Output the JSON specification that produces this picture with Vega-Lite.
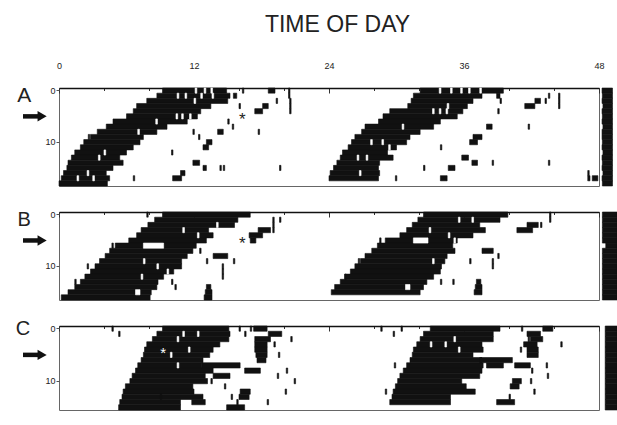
{
"$schema": "https://vega.github.io/schema/vega-lite/v6.json",
"background": "white",
"padding": {"left": 15, "top": 14, "right": 0, "bottom": 0},
"title": {"text": "TIME OF DAY", "font": "Liberation Sans", "fontSize": 23, "fontWeight": "normal", "color": "#222", "anchor": "middle", "offset": 21, "dx": 21},
"config": {
  "view": {"stroke": "#666", "strokeWidth": 1},
  "font": "Liberation Sans",
  "axis": {"labelFont": "Liberation Sans", "labelFontSize": 9, "labelColor": "#222", "title": null, "grid": false}
},
"bounds": "flush",
"spacing": 26,
"datasets": {
"A": [
{"d":0,"s":9.2,"e":14.9,"k":"b"},{"d":1,"s":8.7,"e":15.2,"k":"b"},{"d":2,"s":7.8,"e":15.0,"k":"b"},{"d":3,"s":6.9,"e":13.5,"k":"b"},{"d":4,"s":6.6,"e":12.6,"k":"b"},{"d":5,"s":6.0,"e":12.3,"k":"b"},{"d":6,"s":4.8,"e":11.4,"k":"b"},{"d":7,"s":4.2,"e":9.6,"k":"b"},{"d":8,"s":3.4,"e":8.7,"k":"b"},{"d":9,"s":2.8,"e":7.5,"k":"b"},{"d":10,"s":2.2,"e":7.2,"k":"b"},{"d":11,"s":1.9,"e":6.6,"k":"b"},{"d":12,"s":1.4,"e":6.0,"k":"b"},{"d":13,"s":1.1,"e":5.4,"k":"b"},{"d":14,"s":0.8,"e":5.7,"k":"b"},{"d":15,"s":0.7,"e":4.8,"k":"b"},{"d":16,"s":0.4,"e":4.2,"k":"b"},{"d":17,"s":0.2,"e":4.5,"k":"b"},{"d":18,"s":0.0,"e":4.3,"k":"b"},
{"d":0,"s":32.1,"e":39.5,"k":"b"},{"d":1,"s":31.5,"e":37.6,"k":"b"},{"d":2,"s":31.3,"e":36.8,"k":"b"},{"d":3,"s":31.0,"e":36.3,"k":"b"},{"d":4,"s":29.4,"e":35.9,"k":"b"},{"d":5,"s":28.8,"e":35.4,"k":"b"},{"d":6,"s":28.4,"e":33.9,"k":"b"},{"d":7,"s":27.2,"e":33.3,"k":"b"},{"d":8,"s":26.9,"e":32.1,"k":"b"},{"d":9,"s":26.3,"e":31.2,"k":"b"},{"d":10,"s":26.0,"e":30.9,"k":"b"},{"d":11,"s":25.7,"e":30.0,"k":"b"},{"d":12,"s":25.2,"e":29.2,"k":"b"},{"d":13,"s":25.0,"e":29.7,"k":"b"},{"d":14,"s":24.7,"e":28.5,"k":"b"},{"d":15,"s":24.4,"e":28.4,"k":"b"},{"d":16,"s":24.1,"e":28.5,"k":"b"},{"d":17,"s":24.0,"e":28.4,"k":"b"},
{"d":0,"s":18.6,"e":19.2,"k":"b"},{"d":1,"s":15.5,"e":15.8,"k":"b"},{"d":3,"s":18.1,"e":18.6,"k":"b"},{"d":4,"s":17.4,"e":18.1,"k":"b"},{"d":8,"s":14.1,"e":14.6,"k":"b"},{"d":10,"s":13.1,"e":13.6,"k":"b"},{"d":11,"s":12.8,"e":13.3,"k":"b"},{"d":14,"s":11.9,"e":12.5,"k":"b"},{"d":15,"s":12.8,"e":13.1,"k":"b"},{"d":16,"s":10.8,"e":11.2,"k":"b"},{"d":17,"s":10.1,"e":10.9,"k":"b"},
{"d":1,"s":38.9,"e":39.2,"k":"b"},{"d":2,"s":42.3,"e":42.8,"k":"b"},{"d":3,"s":41.4,"e":42.3,"k":"b"},{"d":7,"s":38.0,"e":38.5,"k":"b"},{"d":9,"s":36.8,"e":37.6,"k":"b"},{"d":10,"s":36.5,"e":37.2,"k":"b"},{"d":13,"s":35.8,"e":36.4,"k":"b"},{"d":14,"s":36.7,"e":37.2,"k":"b"},{"d":15,"s":34.6,"e":35.2,"k":"b"},{"d":17,"s":33.9,"e":34.5,"k":"b"},{"d":17,"s":47.0,"e":47.2,"k":"b"},{"d":17,"s":47.4,"e":47.9,"k":"b"},
{"d":0,"s":16.3,"e":16.43,"k":"b"},{"d":0,"s":20.4,"e":20.53,"k":"b"},{"d":1,"s":20.4,"e":20.53,"k":"b"},{"d":2,"s":20.5,"e":20.63,"k":"b"},{"d":3,"s":20.5,"e":20.63,"k":"b"},{"d":4,"s":20.5,"e":20.63,"k":"b"},{"d":2,"s":19.3,"e":19.43,"k":"b"},{"d":6,"s":15.0,"e":15.13,"k":"b"},{"d":7,"s":15.4,"e":15.53,"k":"b"},{"d":8,"s":11.9,"e":12.03,"k":"b"},{"d":8,"s":17.7,"e":17.83,"k":"b"},{"d":9,"s":12.4,"e":12.53,"k":"b"},{"d":12,"s":10.0,"e":10.13,"k":"b"},{"d":15,"s":14.3,"e":14.43,"k":"b"},{"d":15,"s":14.6,"e":14.73,"k":"b"},{"d":15,"s":19.6,"e":19.73,"k":"b"},{"d":17,"s":6.6,"e":6.73,"k":"b"},{"d":9,"s":2.6,"e":2.73,"k":"b"},{"d":3,"s":16.0,"e":16.13,"k":"b"},
{"d":1,"s":44.4,"e":44.53,"k":"b"},{"d":2,"s":44.4,"e":44.53,"k":"b"},{"d":3,"s":44.4,"e":44.53,"k":"b"},{"d":1,"s":43.5,"e":43.63,"k":"b"},{"d":2,"s":43.2,"e":43.33,"k":"b"},{"d":2,"s":39.2,"e":39.33,"k":"b"},{"d":4,"s":39.0,"e":39.13,"k":"b"},{"d":7,"s":41.7,"e":41.83,"k":"b"},{"d":14,"s":43.5,"e":43.63,"k":"b"},{"d":11,"s":33.9,"e":34.03,"k":"b"},{"d":14,"s":38.5,"e":38.63,"k":"b"},{"d":15,"s":32.4,"e":32.53,"k":"b"},{"d":17,"s":29.9,"e":30.03,"k":"b"},{"d":16,"s":47.0,"e":47.13,"k":"b"},
{"d":0,"s":48.27,"e":49.2,"k":"b"},{"d":1,"s":48.3,"e":49.2,"k":"b"},{"d":2,"s":48.27,"e":49.2,"k":"b"},{"d":3,"s":48.35,"e":49.2,"k":"b"},{"d":4,"s":48.27,"e":49.2,"k":"b"},{"d":5,"s":48.3,"e":49.2,"k":"b"},{"d":6,"s":48.27,"e":49.2,"k":"b"},{"d":7,"s":48.35,"e":49.2,"k":"b"},{"d":8,"s":48.27,"e":49.2,"k":"b"},{"d":9,"s":48.27,"e":49.2,"k":"b"},{"d":10,"s":48.3,"e":49.2,"k":"b"},{"d":11,"s":48.27,"e":49.2,"k":"b"},{"d":12,"s":48.35,"e":49.2,"k":"b"},{"d":13,"s":48.27,"e":49.2,"k":"b"},{"d":14,"s":48.3,"e":49.2,"k":"b"},{"d":15,"s":48.27,"e":49.2,"k":"b"},{"d":16,"s":48.35,"e":49.2,"k":"b"},{"d":17,"s":48.27,"e":49.2,"k":"b"},{"d":18,"s":48.3,"e":49.2,"k":"b"},
{"d":0,"s":12.1,"e":12.25,"k":"w"},{"d":0,"s":12.9,"e":13.05,"k":"w"},{"d":0,"s":13.5,"e":13.65,"k":"w"},{"d":1,"s":10.5,"e":10.65,"k":"w"},{"d":1,"s":11.2,"e":11.35,"k":"w"},{"d":1,"s":12.6,"e":12.75,"k":"w"},{"d":1,"s":13.6,"e":13.75,"k":"w"},{"d":2,"s":12.0,"e":12.15,"k":"w"},{"d":5,"s":10.4,"e":10.55,"k":"w"},{"d":5,"s":10.9,"e":11.05,"k":"w"},{"d":5,"s":11.6,"e":11.75,"k":"w"},{"d":6,"s":8.6,"e":8.75,"k":"w"},{"d":8,"s":7.0,"e":7.15,"k":"w"},{"d":12,"s":4.0,"e":4.15,"k":"w"},{"d":13,"s":3.5,"e":3.65,"k":"w"},{"d":16,"s":2.5,"e":2.65,"k":"w"},{"d":17,"s":1.6,"e":1.75,"k":"w"},{"d":17,"s":3.0,"e":3.15,"k":"w"},
{"d":0,"s":33.8,"e":33.95,"k":"w"},{"d":0,"s":34.8,"e":34.95,"k":"w"},{"d":0,"s":35.7,"e":35.85,"k":"w"},{"d":0,"s":36.4,"e":36.55,"k":"w"},{"d":0,"s":37.4,"e":37.55,"k":"w"},{"d":3,"s":34.5,"e":34.65,"k":"w"},{"d":4,"s":33.2,"e":33.35,"k":"w"},{"d":4,"s":33.8,"e":33.95,"k":"w"},{"d":4,"s":34.4,"e":34.55,"k":"w"},{"d":7,"s":30.5,"e":30.65,"k":"w"},{"d":10,"s":27.7,"e":27.85,"k":"w"},{"d":10,"s":28.7,"e":28.85,"k":"w"},{"d":11,"s":29.3,"e":29.45,"k":"w"},{"d":13,"s":26.5,"e":26.65,"k":"w"},{"d":13,"s":27.3,"e":27.45,"k":"w"},{"d":16,"s":26.7,"e":26.85,"k":"w"}
],
"B": [
{"d":0,"s":9.2,"e":17.0,"k":"b"},{"d":1,"s":8.5,"e":15.9,"k":"b"},{"d":2,"s":7.9,"e":15.6,"k":"b"},{"d":3,"s":7.3,"e":13.3,"k":"b"},{"d":4,"s":6.9,"e":13.7,"k":"b"},{"d":5,"s":6.2,"e":13.1,"k":"b"},{"d":6,"s":5.0,"e":12.2,"k":"b"},{"d":7,"s":4.5,"e":11.9,"k":"b"},{"d":8,"s":4.1,"e":11.4,"k":"b"},{"d":9,"s":3.6,"e":10.9,"k":"b"},{"d":10,"s":3.2,"e":10.9,"k":"b"},{"d":11,"s":2.8,"e":10.2,"k":"b"},{"d":12,"s":2.3,"e":9.3,"k":"b"},{"d":13,"s":1.9,"e":8.8,"k":"b"},{"d":14,"s":1.4,"e":8.7,"k":"b"},{"d":15,"s":0.8,"e":8.2,"k":"b"},{"d":16,"s":0.2,"e":8.1,"k":"b"},
{"d":0,"s":32.4,"e":39.9,"k":"b"},{"d":1,"s":31.9,"e":39.2,"k":"b"},{"d":2,"s":31.4,"e":37.4,"k":"b"},{"d":3,"s":30.9,"e":37.9,"k":"b"},{"d":4,"s":30.3,"e":36.8,"k":"b"},{"d":5,"s":29.0,"e":35.4,"k":"b"},{"d":6,"s":28.3,"e":35.0,"k":"b"},{"d":7,"s":27.8,"e":35.2,"k":"b"},{"d":8,"s":27.2,"e":34.5,"k":"b"},{"d":9,"s":26.8,"e":34.3,"k":"b"},{"d":10,"s":26.3,"e":34.0,"k":"b"},{"d":11,"s":25.9,"e":33.9,"k":"b"},{"d":12,"s":25.4,"e":33.3,"k":"b"},{"d":13,"s":25.0,"e":32.7,"k":"b"},{"d":14,"s":24.5,"e":32.4,"k":"b"},{"d":15,"s":24.2,"e":32.1,"k":"b"},
{"d":3,"s":17.7,"e":18.8,"k":"b"},{"d":4,"s":16.9,"e":18.1,"k":"b"},{"d":5,"s":17.0,"e":17.5,"k":"b"},{"d":8,"s":13.7,"e":15.0,"k":"b"},{"d":14,"s":13.1,"e":13.5,"k":"b"},{"d":15,"s":13.0,"e":13.6,"k":"b"},{"d":16,"s":12.9,"e":13.6,"k":"b"},
{"d":2,"s":41.6,"e":42.6,"k":"b"},{"d":3,"s":40.7,"e":42.1,"k":"b"},{"d":7,"s":37.6,"e":38.6,"k":"b"},{"d":13,"s":37.1,"e":37.5,"k":"b"},{"d":14,"s":37.0,"e":37.6,"k":"b"},{"d":15,"s":36.9,"e":37.6,"k":"b"},
{"d":1,"s":19.6,"e":19.73,"k":"b"},{"d":1,"s":19.0,"e":19.13,"k":"b"},{"d":2,"s":19.0,"e":19.13,"k":"b"},{"d":3,"s":19.0,"e":19.13,"k":"b"},{"d":9,"s":15.5,"e":15.63,"k":"b"},{"d":7,"s":12.5,"e":12.63,"k":"b"},{"d":9,"s":13.1,"e":13.23,"k":"b"},{"d":10,"s":14.5,"e":14.63,"k":"b"},{"d":11,"s":14.5,"e":14.63,"k":"b"},{"d":12,"s":14.5,"e":14.63,"k":"b"},{"d":13,"s":10.0,"e":10.13,"k":"b"},{"d":14,"s":10.3,"e":10.43,"k":"b"},{"d":6,"s":4.7,"e":4.83,"k":"b"},{"d":0,"s":7.8,"e":7.93,"k":"b"},{"d":10,"s":2.5,"e":2.63,"k":"b"},{"d":13,"s":1.4,"e":1.53,"k":"b"},
{"d":0,"s":43.6,"e":43.73,"k":"b"},{"d":1,"s":43.6,"e":43.73,"k":"b"},{"d":2,"s":42.8,"e":42.93,"k":"b"},{"d":8,"s":39.0,"e":39.13,"k":"b"},{"d":9,"s":38.5,"e":38.63,"k":"b"},{"d":10,"s":38.5,"e":38.63,"k":"b"},{"d":9,"s":36.5,"e":36.63,"k":"b"},{"d":13,"s":35.0,"e":35.13,"k":"b"},{"d":13,"s":33.9,"e":34.03,"k":"b"},{"d":5,"s":28.5,"e":28.63,"k":"b"},{"d":9,"s":26.6,"e":26.73,"k":"b"},{"d":12,"s":25.4,"e":25.53,"k":"b"},
{"d":0,"s":48.3,"e":49.6,"k":"b"},{"d":1,"s":48.3,"e":49.6,"k":"b"},{"d":2,"s":48.3,"e":49.6,"k":"b"},{"d":3,"s":48.3,"e":49.6,"k":"b"},{"d":4,"s":48.3,"e":49.6,"k":"b"},{"d":5,"s":48.3,"e":49.6,"k":"b"},{"d":6,"s":48.6,"e":49.6,"k":"b"},{"d":7,"s":48.3,"e":49.6,"k":"b"},{"d":8,"s":48.3,"e":49.6,"k":"b"},{"d":9,"s":48.3,"e":49.6,"k":"b"},{"d":10,"s":48.3,"e":49.6,"k":"b"},{"d":11,"s":48.3,"e":49.6,"k":"b"},{"d":12,"s":48.3,"e":49.6,"k":"b"},{"d":13,"s":48.3,"e":49.6,"k":"b"},{"d":14,"s":48.3,"e":49.6,"k":"b"},{"d":15,"s":48.3,"e":49.6,"k":"b"},{"d":16,"s":48.3,"e":49.6,"k":"b"},
{"d":6,"s":7.5,"e":9.3,"k":"w"},{"d":15,"s":6.8,"e":7.2,"k":"w"},{"d":5,"s":31.5,"e":32.8,"k":"w"},{"d":14,"s":30.8,"e":31.2,"k":"w"},
{"d":2,"s":14.0,"e":14.15,"k":"w"},{"d":3,"s":11.0,"e":11.15,"k":"w"},{"d":4,"s":12.3,"e":12.45,"k":"w"},{"d":9,"s":7.5,"e":7.65,"k":"w"},{"d":10,"s":8.7,"e":8.85,"k":"w"},{"d":11,"s":9.6,"e":9.75,"k":"w"},{"d":12,"s":7.3,"e":7.45,"k":"w"},{"d":3,"s":32.9,"e":33.05,"k":"w"},{"d":4,"s":34.6,"e":34.75,"k":"w"},{"d":5,"s":35.1,"e":35.25,"k":"w"},{"d":9,"s":33.2,"e":33.35,"k":"w"},{"d":1,"s":35.5,"e":35.65,"k":"w"},{"d":1,"s":36.7,"e":36.85,"k":"w"}
],
"C": [
{"d":0,"s":9.2,"e":15.1,"k":"b"},{"d":1,"s":8.7,"e":15.2,"k":"b"},{"d":2,"s":8.3,"e":15.1,"k":"b"},{"d":3,"s":7.8,"e":14.3,"k":"b"},{"d":4,"s":7.6,"e":13.7,"k":"b"},{"d":5,"s":7.5,"e":13.4,"k":"b"},{"d":6,"s":7.3,"e":12.8,"k":"b"},{"d":7,"s":7.0,"e":12.7,"k":"b"},{"d":8,"s":6.8,"e":13.7,"k":"b"},{"d":9,"s":6.5,"e":13.0,"k":"b"},{"d":10,"s":6.3,"e":13.2,"k":"b"},{"d":11,"s":5.9,"e":11.9,"k":"b"},{"d":12,"s":5.7,"e":12.0,"k":"b"},{"d":13,"s":5.6,"e":12.8,"k":"b"},{"d":14,"s":5.4,"e":10.8,"k":"b"},{"d":15,"s":5.3,"e":10.8,"k":"b"},
{"d":0,"s":33.0,"e":39.2,"k":"b"},{"d":1,"s":32.4,"e":38.6,"k":"b"},{"d":2,"s":32.1,"e":38.6,"k":"b"},{"d":3,"s":31.8,"e":37.6,"k":"b"},{"d":4,"s":31.5,"e":37.7,"k":"b"},{"d":5,"s":31.4,"e":36.8,"k":"b"},{"d":6,"s":31.2,"e":37.6,"k":"b"},{"d":7,"s":30.9,"e":37.7,"k":"b"},{"d":8,"s":30.6,"e":37.6,"k":"b"},{"d":9,"s":30.3,"e":37.4,"k":"b"},{"d":10,"s":30.1,"e":35.8,"k":"b"},{"d":11,"s":29.9,"e":36.2,"k":"b"},{"d":12,"s":29.7,"e":37.0,"k":"b"},{"d":13,"s":29.6,"e":34.8,"k":"b"},{"d":14,"s":29.4,"e":34.8,"k":"b"},
{"d":0,"s":17.3,"e":18.5,"k":"b"},{"d":1,"s":18.6,"e":19.8,"k":"b"},{"d":2,"s":17.4,"e":18.8,"k":"b"},{"d":3,"s":17.4,"e":18.5,"k":"b"},{"d":4,"s":17.4,"e":18.5,"k":"b"},{"d":5,"s":17.5,"e":18.5,"k":"b"},{"d":6,"s":17.6,"e":18.4,"k":"b"},{"d":7,"s":12.7,"e":16.1,"k":"b"},{"d":8,"s":16.5,"e":17.9,"k":"b"},{"d":9,"s":13.7,"e":15.2,"k":"b"},{"d":12,"s":16.1,"e":17.0,"k":"b"},{"d":13,"s":16.0,"e":16.9,"k":"b"},{"d":14,"s":11.8,"e":13.0,"k":"b"},{"d":15,"s":14.9,"e":16.5,"k":"b"},
{"d":0,"s":43.0,"e":43.9,"k":"b"},{"d":1,"s":41.6,"e":42.8,"k":"b"},{"d":2,"s":41.9,"e":43.0,"k":"b"},{"d":3,"s":41.3,"e":42.5,"k":"b"},{"d":4,"s":41.6,"e":42.6,"k":"b"},{"d":5,"s":41.6,"e":42.6,"k":"b"},{"d":6,"s":37.4,"e":40.3,"k":"b"},{"d":7,"s":38.0,"e":39.5,"k":"b"},{"d":7,"s":40.5,"e":41.9,"k":"b"},{"d":10,"s":40.3,"e":41.1,"k":"b"},{"d":11,"s":40.1,"e":40.9,"k":"b"},{"d":14,"s":38.9,"e":40.5,"k":"b"},
{"d":0,"s":4.7,"e":4.83,"k":"b"},{"d":1,"s":5.3,"e":5.43,"k":"b"},{"d":0,"s":16.0,"e":16.13,"k":"b"},{"d":0,"s":17.0,"e":17.13,"k":"b"},{"d":1,"s":16.5,"e":16.63,"k":"b"},{"d":2,"s":20.6,"e":20.73,"k":"b"},{"d":3,"s":19.1,"e":19.23,"k":"b"},{"d":5,"s":19.5,"e":19.63,"k":"b"},{"d":8,"s":20.2,"e":20.33,"k":"b"},{"d":9,"s":19.4,"e":19.53,"k":"b"},{"d":10,"s":20.9,"e":21.03,"k":"b"},{"d":12,"s":20.1,"e":20.23,"k":"b"},{"d":13,"s":15.3,"e":15.43,"k":"b"},{"d":14,"s":18.5,"e":18.63,"k":"b"},{"d":14,"s":15.8,"e":15.93,"k":"b"},{"d":10,"s":13.5,"e":13.63,"k":"b"},{"d":11,"s":14.7,"e":14.83,"k":"b"},{"d":13,"s":9.0,"e":9.13,"k":"b"},
{"d":0,"s":28.6,"e":28.73,"k":"b"},{"d":0,"s":30.4,"e":30.53,"k":"b"},{"d":1,"s":29.7,"e":29.83,"k":"b"},{"d":0,"s":41.1,"e":41.23,"k":"b"},{"d":2,"s":41.7,"e":41.83,"k":"b"},{"d":3,"s":44.6,"e":44.73,"k":"b"},{"d":4,"s":41.0,"e":41.13,"k":"b"},{"d":7,"s":43.3,"e":43.43,"k":"b"},{"d":8,"s":42.0,"e":42.13,"k":"b"},{"d":9,"s":43.4,"e":43.53,"k":"b"},{"d":10,"s":41.9,"e":42.03,"k":"b"},{"d":12,"s":42.2,"e":42.33,"k":"b"},{"d":13,"s":40.0,"e":40.13,"k":"b"},{"d":7,"s":29.8,"e":29.93,"k":"b"},{"d":12,"s":29.0,"e":29.13,"k":"b"},
{"d":0,"s":48.55,"e":49.6,"k":"b"},{"d":1,"s":48.55,"e":49.6,"k":"b"},{"d":2,"s":48.55,"e":49.6,"k":"b"},{"d":3,"s":48.55,"e":49.6,"k":"b"},{"d":4,"s":48.55,"e":49.6,"k":"b"},{"d":5,"s":48.55,"e":49.6,"k":"b"},{"d":6,"s":48.55,"e":49.6,"k":"b"},{"d":7,"s":48.55,"e":49.6,"k":"b"},{"d":8,"s":48.55,"e":49.6,"k":"b"},{"d":9,"s":48.55,"e":49.6,"k":"b"},{"d":10,"s":48.55,"e":49.6,"k":"b"},{"d":11,"s":48.55,"e":49.6,"k":"b"},{"d":12,"s":48.55,"e":49.6,"k":"b"},{"d":13,"s":48.55,"e":49.6,"k":"b"},{"d":14,"s":48.55,"e":49.6,"k":"b"},{"d":15,"s":48.55,"e":49.6,"k":"b"},
{"d":1,"s":11.0,"e":11.15,"k":"w"},{"d":1,"s":12.3,"e":12.45,"k":"w"},{"d":2,"s":10.5,"e":10.65,"k":"w"},{"d":4,"s":11.5,"e":11.65,"k":"w"},{"d":5,"s":9.9,"e":10.05,"k":"w"},{"d":7,"s":10.5,"e":10.65,"k":"w"},{"d":3,"s":33.0,"e":33.15,"k":"w"},{"d":3,"s":34.3,"e":34.45,"k":"w"},{"d":4,"s":35.5,"e":35.65,"k":"w"},{"d":2,"s":35.1,"e":35.25,"k":"w"}
]
},
"vconcat": [
{
 "width": 540, "height": 98,
 "layer": [
  {"data": {"name": "A"}, "mark": {"type": "bar", "strokeWidth": 0.6},
   "encoding": {
    "x": {"field": "s", "type": "quantitative", "scale": {"domain": [0, 48], "nice": false, "zero": false},
      "axis": {"orient": "top", "values": [0,1,2,3,4,5,6,7,8,9,10,11,12,13,14,15,16,17,18,19,20,21,22,23,24,25,26,27,28,29,30,31,32,33,34,35,36,37,38,39,40,41,42,43,44,45,46,47,48],
        "labelExpr": "datum.value % 12 === 0 ? datum.label : ''", "labelOverlap": false, "labelFlush": false, "labelPadding": 23,
        "tickSize": {"condition": {"test": "datum.value % 12 === 0", "value": -5}, "value": -2.5},
        "tickColor": "#333", "domainColor": "#111", "domainWidth": 1.5}},
    "x2": {"field": "e"},
    "y": {"field": "d", "type": "ordinal", "scale": {"domain": [0,1,2,3,4,5,6,7,8,9,10,11,12,13,14,15,16,17,18], "paddingInner": 0, "paddingOuter": 0},
      "axis": {"values": [0, 10], "tickSize": 3, "labelPadding": 1, "domain": false, "tickColor": "#555"}},
    "color": {"field": "k", "type": "nominal", "scale": {"domain": ["b", "w"], "range": ["#111", "#ffffff"]}, "legend": null},
    "stroke": {"field": "k", "type": "nominal", "scale": {"domain": ["b", "w"], "range": ["#111", "#ffffff"]}, "legend": null}
   }},
  {"data": {"values": [{}]}, "mark": {"type": "text", "text": "A", "fontSize": 21, "font": "Liberation Sans", "color": "#222", "baseline": "middle"},
   "encoding": {"x": {"datum": -3.1}, "y": {"datum": 1, "type": "ordinal"}}},
  {"data": {"values": [{}]}, "mark": {"type": "rule", "strokeWidth": 4.5, "color": "#111"},
   "encoding": {"x": {"datum": -3.2}, "x2": {"datum": -1.7}, "y": {"datum": 5, "type": "ordinal"}}},
  {"data": {"values": [{}]}, "mark": {"type": "point", "shape": "triangle-right", "filled": true, "size": 110, "color": "#111", "opacity": 1},
   "encoding": {"x": {"datum": -1.5}, "y": {"datum": 5, "type": "ordinal"}}},
  {"data": {"values": [{}]}, "mark": {"type": "text", "text": "*", "fontSize": 17, "font": "Liberation Sans", "color": "#222", "baseline": "middle", "dy": 4},
   "encoding": {"x": {"datum": 16.3}, "y": {"datum": 5, "type": "ordinal"}}}
 ]
},
{
 "width": 540, "height": 88,
 "layer": [
  {"data": {"name": "B"}, "mark": {"type": "bar", "strokeWidth": 0.6},
   "encoding": {
    "x": {"field": "s", "type": "quantitative", "scale": {"domain": [0, 48], "nice": false, "zero": false},
      "axis": {"orient": "top", "values": [0,1,2,3,4,5,6,7,8,9,10,11,12,13,14,15,16,17,18,19,20,21,22,23,24,25,26,27,28,29,30,31,32,33,34,35,36,37,38,39,40,41,42,43,44,45,46,47,48],
        "labels": false,
        "tickSize": {"condition": {"test": "datum.value % 12 === 0", "value": -5}, "value": -2.5},
        "tickColor": "#333", "domainColor": "#111", "domainWidth": 1.5}},
    "x2": {"field": "e"},
    "y": {"field": "d", "type": "ordinal", "scale": {"domain": [0,1,2,3,4,5,6,7,8,9,10,11,12,13,14,15,16], "paddingInner": 0, "paddingOuter": 0},
      "axis": {"values": [0, 10], "tickSize": 3, "labelPadding": 1, "domain": false, "tickColor": "#555"}},
    "color": {"field": "k", "type": "nominal", "scale": {"domain": ["b", "w"], "range": ["#111", "#ffffff"]}, "legend": null},
    "stroke": {"field": "k", "type": "nominal", "scale": {"domain": ["b", "w"], "range": ["#111", "#ffffff"]}, "legend": null}
   }},
  {"data": {"values": [{}]}, "mark": {"type": "text", "text": "B", "fontSize": 20, "font": "Liberation Sans", "color": "#222", "baseline": "middle"},
   "encoding": {"x": {"datum": -3.1}, "y": {"datum": 1, "type": "ordinal"}}},
  {"data": {"values": [{}]}, "mark": {"type": "rule", "strokeWidth": 4.5, "color": "#111"},
   "encoding": {"x": {"datum": -3.2}, "x2": {"datum": -1.7}, "y": {"datum": 5, "type": "ordinal"}}},
  {"data": {"values": [{}]}, "mark": {"type": "point", "shape": "triangle-right", "filled": true, "size": 110, "color": "#111", "opacity": 1},
   "encoding": {"x": {"datum": -1.5}, "y": {"datum": 5, "type": "ordinal"}}},
  {"data": {"values": [{}]}, "mark": {"type": "text", "text": "*", "fontSize": 17, "font": "Liberation Sans", "color": "#222", "baseline": "middle", "dy": 4},
   "encoding": {"x": {"datum": 16.3}, "y": {"datum": 5, "type": "ordinal"}}}
 ]
},
{
 "width": 540, "height": 84,
 "layer": [
  {"data": {"name": "C"}, "mark": {"type": "bar", "strokeWidth": 0.6},
   "encoding": {
    "x": {"field": "s", "type": "quantitative", "scale": {"domain": [0, 48], "nice": false, "zero": false},
      "axis": {"orient": "top", "values": [0,1,2,3,4,5,6,7,8,9,10,11,12,13,14,15,16,17,18,19,20,21,22,23,24,25,26,27,28,29,30,31,32,33,34,35,36,37,38,39,40,41,42,43,44,45,46,47,48],
        "labels": false,
        "tickSize": {"condition": {"test": "datum.value % 12 === 0", "value": -5}, "value": -2.5},
        "tickColor": "#333", "domainColor": "#111", "domainWidth": 1.5}},
    "x2": {"field": "e"},
    "y": {"field": "d", "type": "ordinal", "scale": {"domain": [0,1,2,3,4,5,6,7,8,9,10,11,12,13,14,15], "paddingInner": 0, "paddingOuter": 0},
      "axis": {"values": [0, 10], "tickSize": 3, "labelPadding": 1, "domain": false, "tickColor": "#555"}},
    "color": {"field": "k", "type": "nominal", "scale": {"domain": ["b", "w"], "range": ["#111", "#ffffff"]}, "legend": null},
    "stroke": {"field": "k", "type": "nominal", "scale": {"domain": ["b", "w"], "range": ["#111", "#ffffff"]}, "legend": null}
   }},
  {"data": {"values": [{}]}, "mark": {"type": "text", "text": "C", "fontSize": 20, "font": "Liberation Sans", "color": "#222", "baseline": "middle"},
   "encoding": {"x": {"datum": -3.2}, "y": {"datum": 0, "type": "ordinal"}}},
  {"data": {"values": [{}]}, "mark": {"type": "rule", "strokeWidth": 4.5, "color": "#111"},
   "encoding": {"x": {"datum": -3.2}, "x2": {"datum": -1.7}, "y": {"datum": 5, "type": "ordinal"}}},
  {"data": {"values": [{}]}, "mark": {"type": "point", "shape": "triangle-right", "filled": true, "size": 110, "color": "#111", "opacity": 1},
   "encoding": {"x": {"datum": -1.5}, "y": {"datum": 5, "type": "ordinal"}}},
  {"data": {"values": [{}]}, "mark": {"type": "text", "text": "*", "fontSize": 15, "font": "Liberation Sans", "color": "#ffffff", "baseline": "middle", "dy": 3},
   "encoding": {"x": {"datum": 9.25}, "y": {"datum": 4, "type": "ordinal"}}}
 ]
}
]
}
